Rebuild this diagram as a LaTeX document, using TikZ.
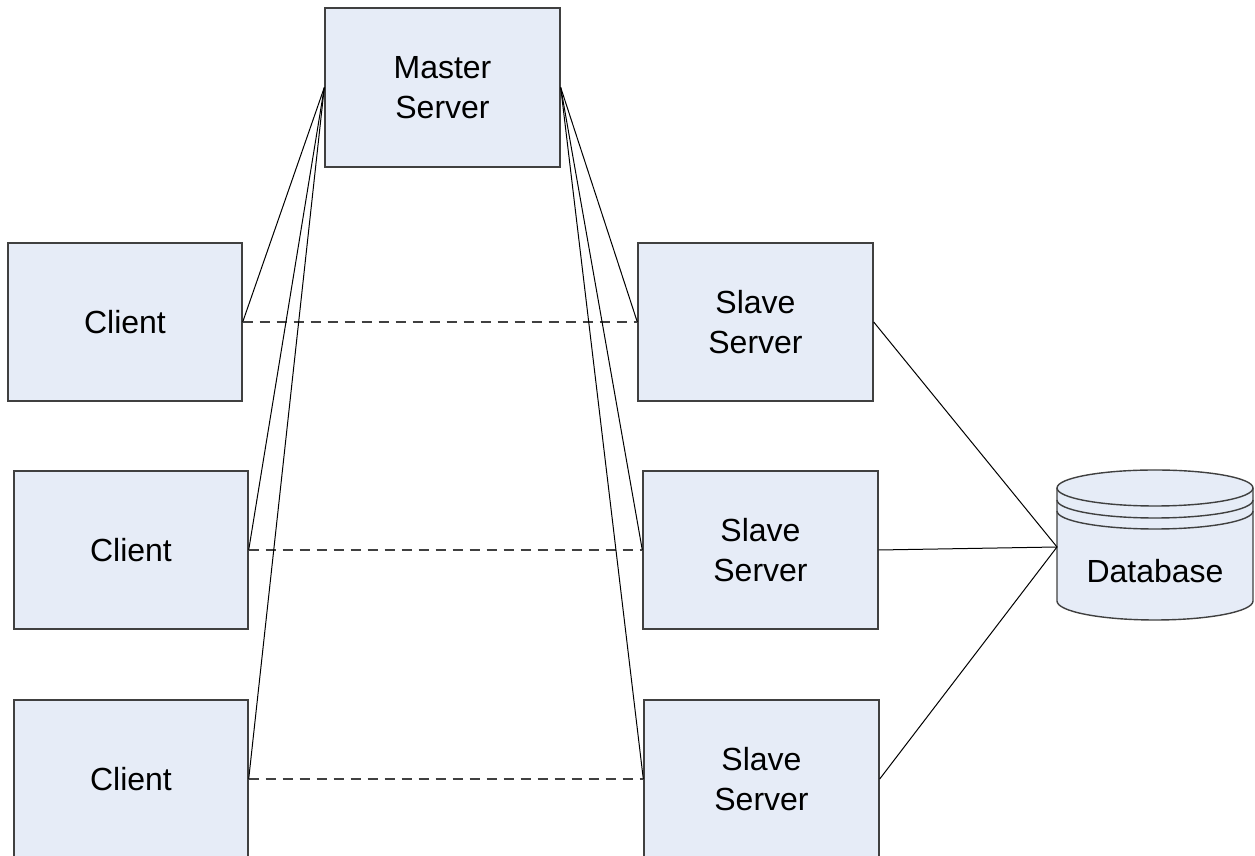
\documentclass[tikz,border=0pt]{standalone}
\usepackage{fontspec}
\setmainfont{Liberation Sans}
\definecolor{boxfill}{RGB}{230,236,247}
\definecolor{boxline}{RGB}{64,64,64}
\tikzset{
box/.style={draw=boxline,line width=1.4pt,fill=boxfill,minimum width=234pt,minimum height=158pt,inner sep=0pt,align=center,font=\fontsize{32}{40}\selectfont},
wire/.style={black,line width=1pt},
peer/.style={boxline,line width=1.3pt,dash pattern=on 10pt off 7pt}
}
\begin{document}
\begin{tikzpicture}[x=1pt,y=1pt]
\useasboundingbox (0,0) rectangle (1255,856);
\node[box,minimum width=235pt,minimum height=159pt] (master) at (442.5,768.5) {Master\\Server};
\node[box] (c1) at (125,534) {Client};
\node[box] (c2) at (131,306) {Client};
\node[box] (c3) at (131,77) {Client};
\node[box,minimum width=235pt] (s1) at (755.5,534) {Slave\\Server};
\node[box,minimum width=235pt] (s2) at (760.5,306) {Slave\\Server};
\node[box,minimum width=235pt] (s3) at (761.5,77) {Slave\\Server};
\filldraw[fill=boxfill,draw=boxline,line width=1.4pt] (1057,368) -- (1057,255) arc[start angle=180,end angle=360,x radius=98,y radius=19] -- (1253,368) arc[start angle=0,end angle=180,x radius=98,y radius=18] -- cycle;
\draw[boxline,line width=1.4pt] (1057,368) arc[start angle=180,end angle=360,x radius=98,y radius=18];
\draw[boxline,line width=1.4pt] (1057,356) arc[start angle=180,end angle=360,x radius=98,y radius=18];
\draw[boxline,line width=1.4pt] (1057,345) arc[start angle=180,end angle=360,x radius=98,y radius=18];
\node[anchor=base,inner sep=0pt,font=\fontsize{32}{40}\selectfont] (db) at (1155,273) {Database};
\coordinate (dbin) at (1057,309);
\foreach \i in {1,2,3}{
\draw[wire] (master.west) -- (c\i.east);
\draw[wire] (master.east) -- (s\i.west);
\draw[peer] (c\i.east) -- (s\i.west);
\draw[wire] (s\i.east) -- (dbin);
}
\end{tikzpicture}
\end{document}
